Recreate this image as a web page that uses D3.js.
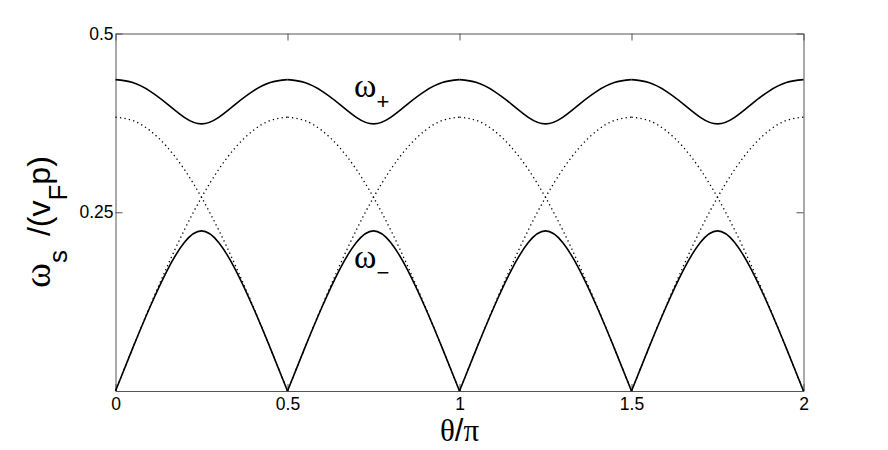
<!DOCTYPE html>
<html>
<head>
<meta charset="utf-8">
<script src="https://cdn.jsdelivr.net/npm/d3@7"></script>
<style>
  body { margin: 0; background: #fff; }
  svg { display: block; }
  .tick text { font-family: "Liberation Sans", Arial, sans-serif; }
</style>
</head>
<body>
<div id="chart"></div>
<script>
  // theta / pi, sampled every 0.05
  const theta = [0, 0.05, 0.1, 0.15, 0.2, 0.25, 0.3, 0.35, 0.4, 0.45,
    0.5, 0.55, 0.6, 0.65, 0.7, 0.75, 0.8, 0.85, 0.9, 0.95,
    1, 1.05, 1.1, 1.15, 1.2, 1.25, 1.3, 1.35, 1.4, 1.45,
    1.5, 1.55, 1.6, 1.65, 1.7, 1.75, 1.8, 1.85, 1.9, 1.95, 2];

  // upper branch omega+
  const omegaPlus = [0.4355, 0.4314, 0.4195, 0.4017, 0.3828, 0.3736, 0.3828, 0.4017, 0.4195, 0.4314,
    0.4355, 0.4314, 0.4195, 0.4017, 0.3828, 0.3736, 0.3828, 0.4017, 0.4195, 0.4314,
    0.4355, 0.4314, 0.4195, 0.4017, 0.3828, 0.3736, 0.3828, 0.4017, 0.4195, 0.4314,
    0.4355, 0.4314, 0.4195, 0.4017, 0.3828, 0.3736, 0.3828, 0.4017, 0.4195, 0.4314, 0.4355];

  // lower branch omega-
  const omegaMinus = [0, 0.0599, 0.1171, 0.1684, 0.2078, 0.2240, 0.2078, 0.1684, 0.1171, 0.0599,
    0, 0.0599, 0.1171, 0.1684, 0.2078, 0.2240, 0.2078, 0.1684, 0.1171, 0.0599,
    0, 0.0599, 0.1171, 0.1684, 0.2078, 0.2240, 0.2078, 0.1684, 0.1171, 0.0599,
    0, 0.0599, 0.1171, 0.1684, 0.2078, 0.2240, 0.2078, 0.1684, 0.1171, 0.0599, 0];

  // uncoupled modes (dotted)
  const modeA = [0.383, 0.3783, 0.3643, 0.3413, 0.3099, 0.2708, 0.2251, 0.1739, 0.1184, 0.0599,
    0, 0.0599, 0.1184, 0.1739, 0.2251, 0.2708, 0.3099, 0.3413, 0.3643, 0.3783,
    0.383, 0.3783, 0.3643, 0.3413, 0.3099, 0.2708, 0.2251, 0.1739, 0.1184, 0.0599,
    0, 0.0599, 0.1184, 0.1739, 0.2251, 0.2708, 0.3099, 0.3413, 0.3643, 0.3783, 0.383];
  const modeB = [0, 0.0599, 0.1184, 0.1739, 0.2251, 0.2708, 0.3099, 0.3413, 0.3643, 0.3783,
    0.383, 0.3783, 0.3643, 0.3413, 0.3099, 0.2708, 0.2251, 0.1739, 0.1184, 0.0599,
    0, 0.0599, 0.1184, 0.1739, 0.2251, 0.2708, 0.3099, 0.3413, 0.3643, 0.3783,
    0.383, 0.3783, 0.3643, 0.3413, 0.3099, 0.2708, 0.2251, 0.1739, 0.1184, 0.0599, 0];

  const xTicks = [0, 0.5, 1, 1.5, 2];
  const xTickLabels = ['0', '0.5', '1', '1.5', '2'];
  const yTicks = [0.25, 0.5];
  const yTickLabels = ['0.25', '0.5'];

  const width = 888;
  const height = 450;
  const margin = {top: 33.5, right: 84.5, bottom: 59, left: 115.5};
  const axisColor = '#555';

  const svg = d3.select('#chart')
    .append('svg')
    .attr('width', width)
    .attr('height', height);

  let x = d3.scaleLinear().domain([0, 2]).range([margin.left, width - margin.right]);
  let y = d3.scaleLinear().domain([0, 0.5]).range([height - margin.bottom, margin.top]);

  // box with inward ticks
  let styleAxis = (g) => {
    g.select('.domain').attr('stroke', axisColor);
    g.selectAll('.tick line').attr('stroke', axisColor);
    g.selectAll('.tick text').attr('fill', '#000').attr('font-size', 17.5);
  };

  svg.append('g')
    .attr('transform', `translate(0,${y(0)})`)
    .call(d3.axisBottom(x).tickValues(xTicks).tickSize(-7).tickSizeOuter(0)
      .tickPadding(7).tickFormat((d, i) => xTickLabels[i]))
    .call(styleAxis);
  svg.append('g')
    .attr('transform', `translate(0,${y(0.5)})`)
    .call(d3.axisTop(x).tickValues(xTicks).tickSize(-7).tickSizeOuter(0).tickFormat(''))
    .call(styleAxis);
  svg.append('g')
    .attr('transform', `translate(${x(0)},0)`)
    .call(d3.axisLeft(y).tickValues(yTicks).tickSize(-7).tickSizeOuter(0)
      .tickPadding(2).tickFormat((d, i) => yTickLabels[i]))
    .call(styleAxis);
  svg.append('g')
    .attr('transform', `translate(${x(2)},0)`)
    .call(d3.axisRight(y).tickValues(yTicks).tickSize(-7).tickSizeOuter(0).tickFormat(''))
    .call(styleAxis);

  // curves are drawn per half period so the cusps stay sharp
  let line = d3.line()
    .x((d) => x(d[0]))
    .y((d) => y(d[1]))
    .curve(d3.curveNatural);

  let drawSeries = (values, dotted) => {
    for (let k = 0; k < 4; k++) {
      let seg = [];
      for (let i = k * 10; i <= k * 10 + 10; i++) {
        seg.push([theta[i], values[i]]);
      }
      svg.append('path')
        .attr('d', line(seg))
        .attr('fill', 'none')
        .attr('stroke', '#000')
        .attr('stroke-width', dotted ? 1.3 : 1.6)
        .attr('stroke-dasharray', dotted ? '1.3,3.2' : null);
    }
  };

  drawSeries(modeA, true);
  drawSeries(modeB, true);
  drawSeries(omegaPlus, false);
  drawSeries(omegaMinus, false);

  // branch labels
  let branchLabel = (px, py, sub) => {
    let t = svg.append('text')
      .attr('x', px)
      .attr('y', py)
      .attr('font-family', '"Liberation Serif", serif')
      .attr('font-size', 34);
    t.append('tspan').text('ω');
    t.append('tspan')
      .attr('dy', 12)
      .attr('font-family', '"Liberation Sans", sans-serif')
      .attr('font-size', 22)
      .text(sub);
  };
  branchLabel(354, 97, '+');
  branchLabel(354, 268, '−');

  // axis titles
  let xl = svg.append('text')
    .attr('x', x(1))
    .attr('y', 441)
    .attr('text-anchor', 'middle')
    .attr('font-family', '"Liberation Serif", serif')
    .attr('font-size', 31);
  xl.append('tspan').text('θ');
  xl.append('tspan').attr('font-family', '"Liberation Sans", sans-serif').text('/');
  xl.append('tspan').text('π');

  let yl = svg.append('text')
    .attr('transform', 'translate(50,288) rotate(-90)')
    .attr('font-family', '"Liberation Sans", sans-serif')
    .attr('font-size', 32);
  yl.append('tspan').attr('font-family', '"Liberation Serif", serif').attr('font-size', 38).text('ω');
  yl.append('tspan').attr('dy', 17).attr('font-size', 26).text('s');
  yl.append('tspan').attr('dy', -17).attr('dx', 5).text(' /(v');
  yl.append('tspan').attr('dy', 17).attr('font-size', 26).text('F');
  yl.append('tspan').attr('dy', -17).text('p)');
</script>
</body>
</html>
